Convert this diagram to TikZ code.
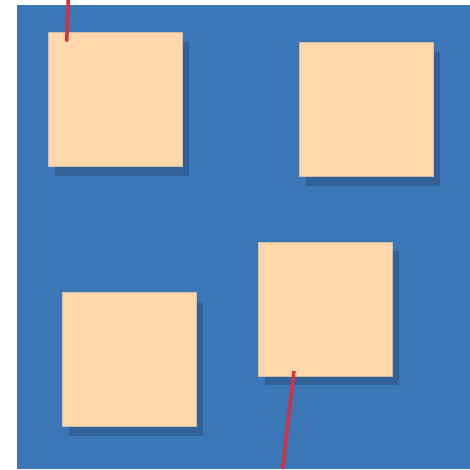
\documentclass[tikz,border=0pt]{standalone}
\usepackage{tikz}
\usetikzlibrary{shadows}

\definecolor{boardblue}{RGB}{59,118,182}
\definecolor{shadowblue}{RGB}{50,97,152}
\definecolor{notepeach}{RGB}{254,216,170}
\definecolor{noteedge}{RGB}{205,190,170}
\definecolor{pinred}{RGB}{214,50,66}

\begin{document}
\begin{tikzpicture}[x=1pt, y=-1pt]
    % Khung ảnh
    \useasboundingbox (0,0) rectangle (470,469);
    
    % Định nghĩa kiểu
    \tikzset{
        c_board/.style={fill=boardblue, draw=none},
        c_note/.style={fill=notepeach, draw=noteedge, line width=0.5pt,
            minimum width=134pt, minimum height=134pt, inner sep=0pt,
            drop shadow={shadow xshift=7pt, shadow yshift=-9.5pt,
                opacity=1, fill=shadowblue}},
        c_pin/.style={color=pinred, line width=3.5pt}
    }
    
    % Nền xanh
    \fill[c_board] (17,5) rectangle (470,469);
    
    % Bốn tờ giấy
    \node[c_note] (noteA) at (115.0,99.2) {};
    \node[c_note] (noteB) at (366.3,109.3) {};
    \node[c_note] (noteC) at (325.3,308.8) {};
    \node[c_note] (noteD) at (129.2,359.2) {};
    
    % Điểm đầu và cuối của hai đường đỏ
    \coordinate (pinA_top) at (68.2,0);
    \coordinate (pinA_end) at (66.7,41.7);
    \coordinate (pinC_end) at (294.0,371.0);
    \coordinate (pinC_bot) at (282.5,469);
    
    % Hai đường đỏ
    \draw[c_pin] (pinA_top) -- (pinA_end);
    \draw[c_pin] (pinC_end) -- (pinC_bot);
\end{tikzpicture}
\end{document}
